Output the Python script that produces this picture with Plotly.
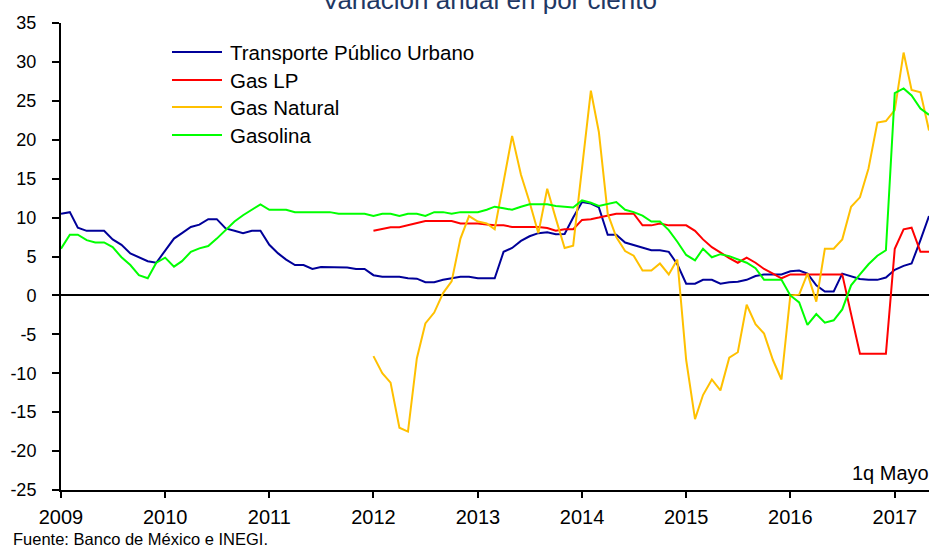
import plotly.graph_objects as go
import pandas as pd

# Monthly dates Jan 2009 .. May 2017
months = pd.date_range("2009-01-01", "2017-05-01", freq="MS")

transporte = [10.5, 10.7, 8.7, 8.3, 8.3, 8.3, 7.2, 6.5, 5.4, 4.9, 4.4, 4.2,
              5.8, 7.3, 8.0, 8.8, 9.1, 9.8, 9.8, 8.6, 8.3, 8.0, 8.3, 8.3,
              6.5, 5.4, 4.6, 3.9, 3.9, 3.4, 3.65, 3.65, 3.65, 3.6, 3.4, 3.4,
              2.6, 2.4, 2.4, 2.4, 2.2, 2.15, 1.7, 1.7, 2.0, 2.2, 2.4, 2.4,
              2.2, 2.2, 2.2, 5.6, 6.1, 7.0, 7.6, 8.0, 8.1, 7.85, 7.9, 10.0,
              12.0, 11.8, 11.3, 7.8, 7.8, 6.8, 6.5, 6.1, 5.8, 5.8, 5.6, 4.0,
              1.5, 1.5, 2.0, 2.0, 1.5, 1.7, 1.75, 2.0, 2.5, 2.7, 2.7, 2.7,
              3.1, 3.2, 2.8, 1.3, 0.5, 0.5, 2.8, 2.4, 2.1, 2.0, 2.0, 2.3,
              3.3, 3.8, 4.1, 7.1, 10.2]

gasolina = [6.0, 7.8, 7.8, 7.1, 6.8, 6.8, 6.2, 4.9, 3.9, 2.6, 2.2, 4.2,
            4.85, 3.7, 4.4, 5.6, 6.05, 6.35, 7.3, 8.4, 9.5, 10.3, 11.0, 11.7,
            11.0, 11.0, 11.0, 10.7, 10.7, 10.7, 10.7, 10.7, 10.5, 10.5, 10.5, 10.5,
            10.2, 10.5, 10.5, 10.2, 10.5, 10.5, 10.2, 10.7, 10.7, 10.5, 10.7, 10.7,
            10.7, 11.0, 11.4, 11.2, 11.0, 11.4, 11.7, 11.7, 11.7, 11.5, 11.4, 11.3,
            12.2, 11.9, 11.5, 11.75, 12.0, 11.0, 10.7, 10.25, 9.5, 9.5, 8.4, 6.9,
            5.2, 4.5, 6.0, 4.9, 5.3, 5.05, 4.6, 4.2, 3.5, 2.0, 2.0, 2.0,
            0.0, -0.9, -3.8, -2.4, -3.5, -3.2, -1.8, 1.3, 2.7, 4.0, 5.1, 5.8,
            26.0, 26.6, 25.7, 24.0, 23.2]

gas_lp = [None] * 36 + [
    8.3, 8.5, 8.75, 8.75, 9.0, 9.25, 9.55, 9.55, 9.55, 9.55, 9.25, 9.25,
    9.25, 9.1, 9.0, 9.0, 8.8, 8.8, 8.8, 8.8, 8.65, 8.3, 8.5, 8.5,
    9.7, 9.8, 10.0, 10.3, 10.5, 10.5, 10.5, 9.0, 9.0, 9.25, 9.0, 9.0,
    9.0, 8.3, 7.2, 6.2, 5.5, 4.8, 4.2, 4.85, 4.2, 3.4, 2.8, 2.2,
    2.7, 2.7, 2.7, 2.7, 2.7, 2.7, 2.7, -2.4, -7.5, -7.5, -7.5, -7.5,
    6.0, 8.5, 8.7, 5.6, 5.6]

gas_natural = [None] * 36 + [
    -7.8, -10.0, -11.2, -17.0, -17.5, -8.1, -3.6, -2.2, 0.3, 1.8, 7.3, 10.2,
    9.5, 9.25, 8.5, 14.8, 20.5, 15.5, 12.0, 8.0, 13.7, 9.9, 6.1, 6.4,
    16.0, 26.3, 21.0, 10.5, 7.5, 5.7, 5.1, 3.2, 3.2, 4.1, 2.7, 4.6,
    -8.3, -15.9, -12.8, -10.8, -12.2, -8.0, -7.3, -1.2, -3.7, -4.9, -8.3, -10.8,
    0.0, 0.1, 2.8, -0.8, 6.0, 6.0, 7.2, 11.4, 12.6, 16.3, 22.2, 22.4,
    23.8, 31.2, 26.4, 26.1, 21.2]

series_names = ["Transporte Público Urbano", "Gas LP", "Gas Natural", "Gasolina"]
series_values = [transporte, gas_lp, gas_natural, gasolina]
series_colors = ["#000099", "#FF0000", "#FFC000", "#00FF00"]

y_ticks = [-25, -20, -15, -10, -5, 0, 5, 10, 15, 20, 25, 30, 35]
y_tick_text = ["-25", "-20", "-15", "-10", "-5", "0", "5", "10", "15", "20", "25", "30", "35"]

title_text = "Variación anual en por ciento"
note_text = "1q Mayo"
source_text = "Fuente: Banco de México e INEGI."

FONT = "Liberation Sans, Arial, sans-serif"

W, H = 933, 547
ML, MR, MT, MB = 61, 4, 23, 57
PW, PH = W - ML - MR, H - MT - MB


def px_x(px):
    return (px - ML) / PW


def px_y(py):
    return (H - MB - py) / PH


fig = go.Figure()
for name, vals, col in zip(series_names, series_values, series_colors):
    fig.add_trace(go.Scatter(x=months, y=vals, mode="lines", name=name,
                             line=dict(color=col, width=2), showlegend=False,
                             connectgaps=False))

shapes = []
annotations = []
# manual legend
legend_rows = [52, 80, 107, 135]
for name, col, ry in zip(series_names, series_colors, legend_rows):
    shapes.append(dict(type="line", xref="paper", yref="paper",
                       x0=px_x(172), x1=px_x(222), y0=px_y(ry), y1=px_y(ry),
                       line=dict(color=col, width=2)))
    annotations.append(dict(text=name, xref="paper", yref="paper",
                            x=px_x(228), y=px_y(ry), xanchor="left", yanchor="middle",
                            showarrow=False, font=dict(family=FONT, size=20.5, color="black")))

annotations.append(dict(text=title_text, xref="paper", yref="paper",
                        x=px_x(489), y=px_y(0), xanchor="center", yanchor="middle",
                        showarrow=False, font=dict(family=FONT, size=26, color="#1F3864")))
annotations.append(dict(text=note_text, xref="paper", yref="paper",
                        x=px_x(931), y=px_y(473), xanchor="right", yanchor="middle",
                        showarrow=False, font=dict(family=FONT, size=20, color="black")))
annotations.append(dict(text=source_text, xref="paper", yref="paper",
                        x=px_x(11), y=px_y(539), xanchor="left", yanchor="middle",
                        showarrow=False, font=dict(family=FONT, size=16.5, color="black")))

fig.update_layout(
    width=W, height=H,
    margin=dict(l=ML, r=MR, t=MT, b=MB, pad=0),
    paper_bgcolor="white", plot_bgcolor="white",
    font=dict(family=FONT, color="black"),
    shapes=shapes, annotations=annotations,
    showlegend=False,
)
fig.update_xaxes(
    type="date", range=["2009-01-01", "2017-05-01"],
    dtick="M12", tick0="2009-01-01", tickformat="%Y",
    showgrid=False, zeroline=False,
    showline=True, linecolor="black", linewidth=2,
    ticks="outside", ticklen=6, tickwidth=1.5, tickcolor="black",
    tickfont=dict(family=FONT, size=20, color="black"),
    ticklabelstandoff=2,
)
fig.update_yaxes(
    range=[-25, 35], tickvals=y_ticks, ticktext=y_tick_text,
    showgrid=False, zeroline=True, zerolinecolor="black", zerolinewidth=1.5,
    showline=True, linecolor="black", linewidth=2,
    ticks="outside", ticklen=7, tickwidth=1.5, tickcolor="black",
    tickfont=dict(family=FONT, size=18, color="black"),
    ticklabelstandoff=12,
)

fig.write_html("out.html", config={"displayModeBar": False},
               post_script="document.body.style.margin='0';document.body.style.overflow='hidden';")
